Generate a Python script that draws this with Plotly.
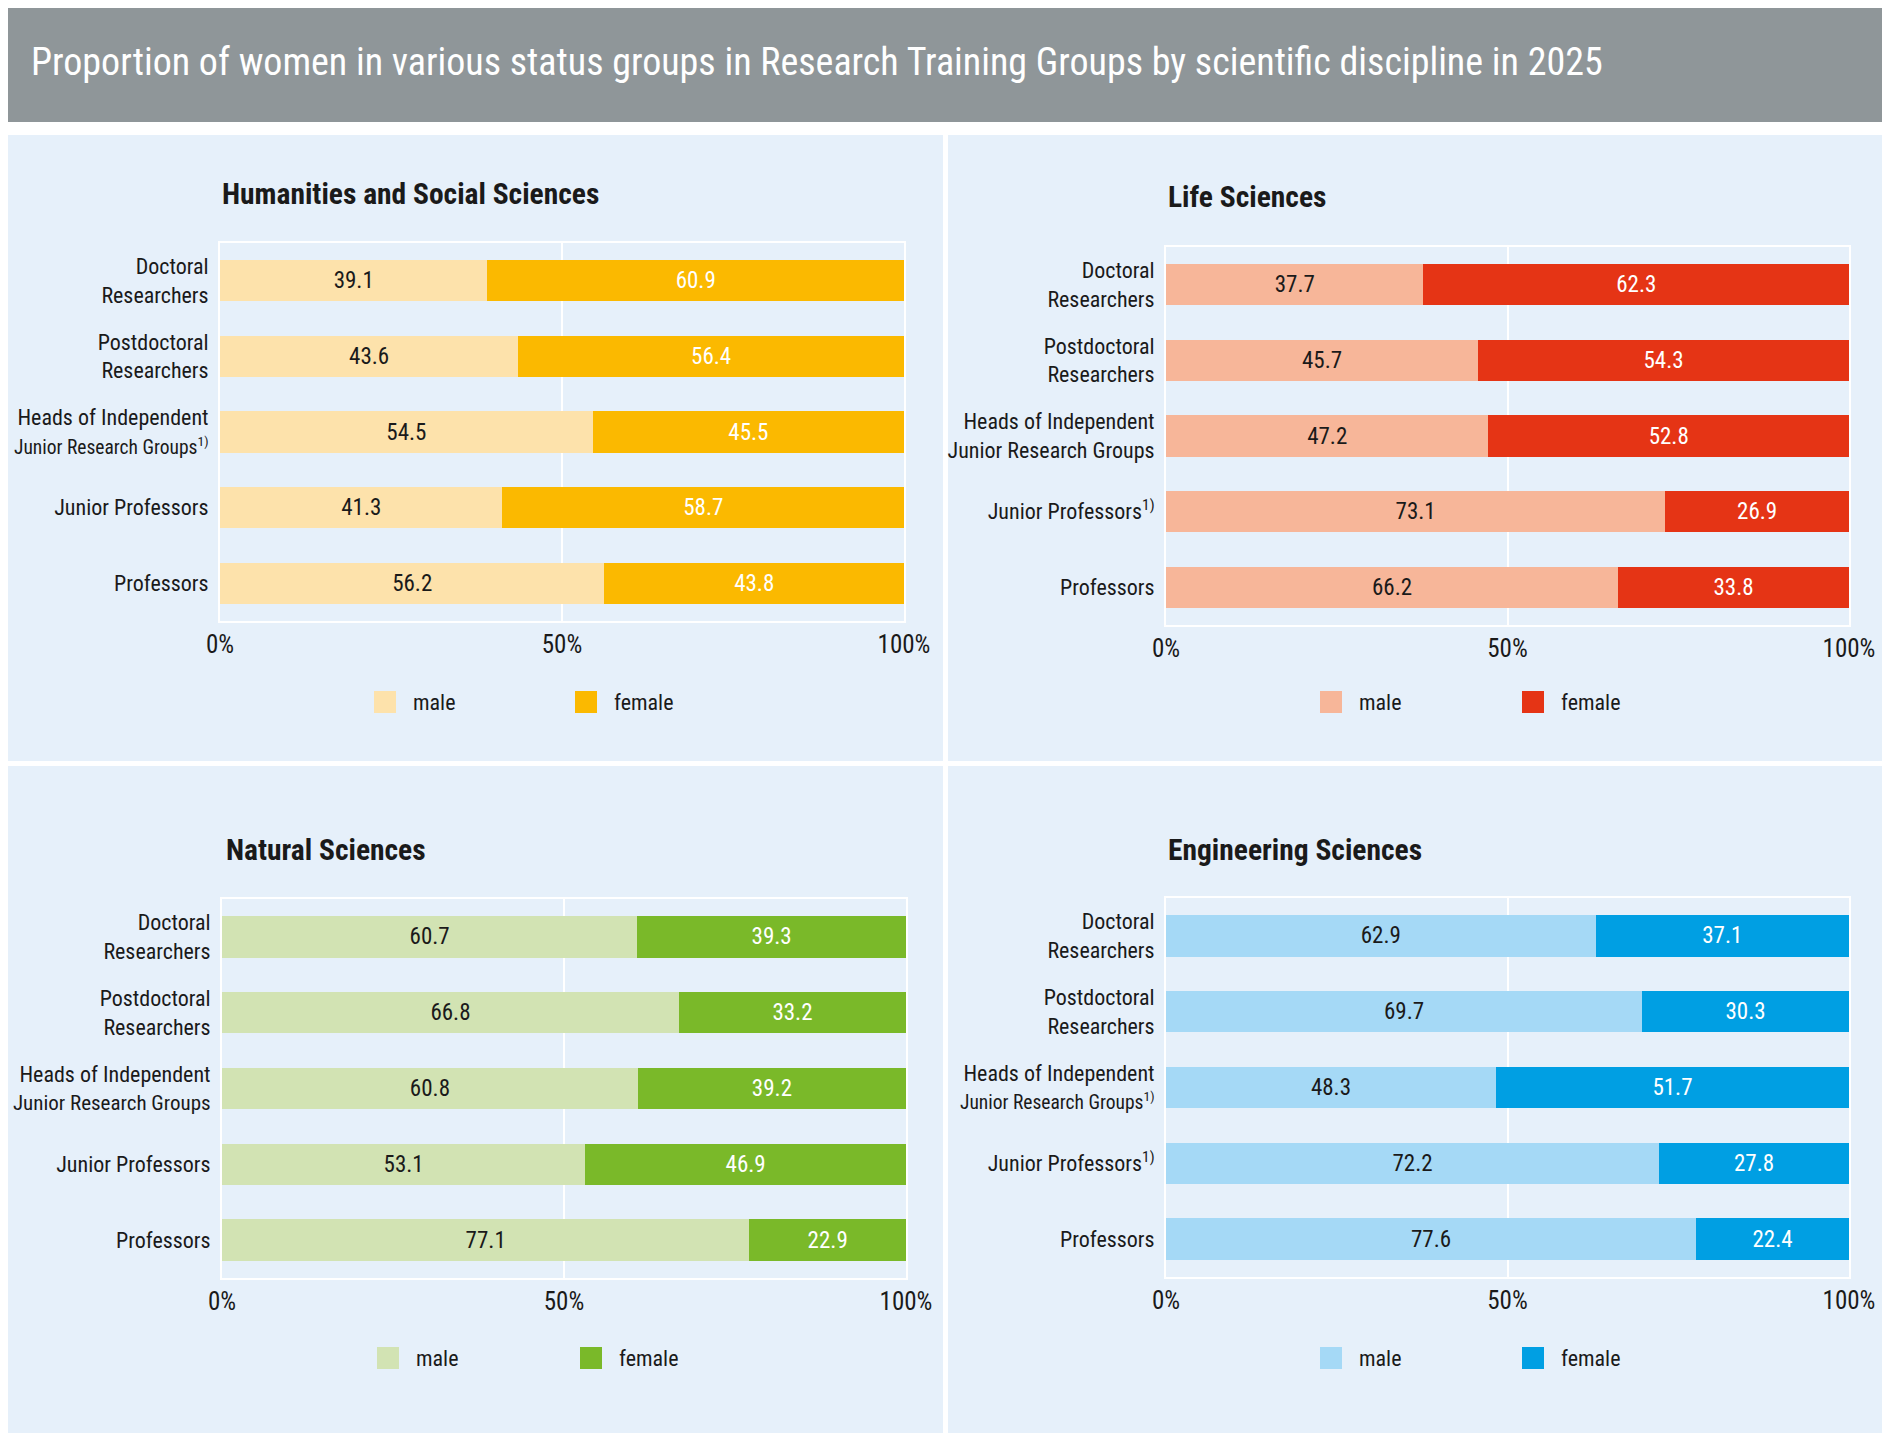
import plotly.graph_objects as go

# the page puts the figure 8px in from the top-left corner
OFF = 8
W, H = 1890 - OFF, 1436 - OFF

title = "Proportion of women in various status groups in Research Training Groups by scientific discipline in 2025"

panel_titles = ["Humanities and Social Sciences", "Life Sciences", "Natural Sciences", "Engineering Sciences"]

jrg_sup = '<span style="font-size:19.5px">Junior Research Groups<sup>1)</sup></span>'
jrg_small = '<span style="font-size:21px">Junior Research Groups</span>'
labels_hss = ["Doctoral<br>Researchers", "Postdoctoral<br>Researchers",
              "Heads of Independent<br>" + jrg_sup, "Junior Professors", "Professors"]
labels_life = ["Doctoral<br>Researchers", "Postdoctoral<br>Researchers",
               "Heads of Independent<br>Junior Research Groups", "Junior Professors<sup>1)</sup>", "Professors"]
labels_nat = ["Doctoral<br>Researchers", "Postdoctoral<br>Researchers",
              "Heads of Independent<br>" + jrg_small, "Junior Professors", "Professors"]
labels_eng = ["Doctoral<br>Researchers", "Postdoctoral<br>Researchers",
              "Heads of Independent<br>" + jrg_sup, "Junior Professors<sup>1)</sup>", "Professors"]

male_hss = [39.1, 43.6, 54.5, 41.3, 56.2]
female_hss = [60.9, 56.4, 45.5, 58.7, 43.8]
male_life = [37.7, 45.7, 47.2, 73.1, 66.2]
female_life = [62.3, 54.3, 52.8, 26.9, 33.8]
male_nat = [60.7, 66.8, 60.8, 53.1, 77.1]
female_nat = [39.3, 33.2, 39.2, 46.9, 22.9]
male_eng = [62.9, 69.7, 48.3, 72.2, 77.6]
female_eng = [37.1, 30.3, 51.7, 27.8, 22.4]

colors_male = ["#fde2ab", "#f7b699", "#d2e3b3", "#a5d9f6"]
colors_female = ["#fbb900", "#e53415", "#7ab929", "#009fe3"]

FONT = "Liberation Sans Narrow, Roboto Condensed, DejaVu Sans Condensed, Arial Narrow, sans-serif"
TXT = "#1a1a1a"


def fx(px):
    return (px - OFF) / W


def fy(py):
    return 1 - (py - OFF) / H


# plot areas in page pixels: (x0, x1, ytop, ybottom)
areas = [(220, 904, 243, 621), (1166, 1849, 247, 625),
         (222, 906, 899, 1278), (1166, 1849, 898, 1277)]
# legend swatch x positions and centre y
legend_pos = [(374, 575, 702), (1320, 1522, 702), (377, 580, 1358), (1320, 1522, 1358)]
title_pos = [(220, 194), (1166, 197), (224, 850), (1166, 850)]

panels = [
    (labels_hss, male_hss, female_hss),
    (labels_life, male_life, female_life),
    (labels_nat, male_nat, female_nat),
    (labels_eng, male_eng, female_eng),
]

fig = go.Figure()
shapes = []
annotations = []

# header band and panel backgrounds
shapes.append(dict(type="rect", xref="paper", yref="paper", x0=fx(OFF), x1=1, y0=fy(122), y1=1,
                   fillcolor="#8f9699", line_width=0, layer="below"))
for (x0, x1, y0, y1) in [(OFF, 943, 135, 761), (948, 1890, 135, 761),
                         (OFF, 943, 766, 1433), (948, 1890, 766, 1433)]:
    shapes.append(dict(type="rect", xref="paper", yref="paper", x0=fx(x0), x1=fx(x1), y0=fy(y1), y1=fy(y0),
                       fillcolor="#e6f0fa", line_width=0, layer="below"))

annotations.append(dict(text=title, x=fx(29), y=fy(62), xref="paper", yref="paper",
                        xanchor="left", yanchor="middle", showarrow=False,
                        font=dict(family=FONT, size=38, color="white")))

for i, (cats, male, female) in enumerate(panels):
    xa = "x" if i == 0 else f"x{i + 1}"
    ya = "y" if i == 0 else f"y{i + 1}"
    fig.add_trace(go.Bar(y=cats, x=male, orientation="h", name="male", xaxis=xa, yaxis=ya,
                         marker=dict(color=colors_male[i], line_width=0), width=0.545,
                         text=[f"{v:.1f}" for v in male], textposition="inside",
                         insidetextanchor="middle", textangle=0,
                         textfont=dict(family=FONT, size=23, color=TXT), showlegend=False))
    fig.add_trace(go.Bar(y=cats, x=female, orientation="h", name="female", xaxis=xa, yaxis=ya,
                         marker=dict(color=colors_female[i], line_width=0), width=0.545,
                         text=[f"{v:.1f}" for v in female], textposition="inside",
                         insidetextanchor="middle", textangle=0,
                         textfont=dict(family=FONT, size=23, color="white"), showlegend=False))

    x0, x1, yt, yb = areas[i]
    sfx = "" if i == 0 else str(i + 1)
    fig.update_layout({
        f"xaxis{sfx}": dict(domain=[fx(x0), fx(x1)], anchor=ya, range=[0, 100],
                            tickvals=[0, 50, 100], ticktext=["0%", "50%", "100%"],
                            showgrid=True, gridcolor="white", gridwidth=2, zeroline=False,
                            showline=True, mirror=True, linecolor="white", linewidth=2,
                            ticks="", ticklabelstandoff=0, layer="below traces", automargin=False,
                            tickfont=dict(family=FONT, size=25, color=TXT), fixedrange=True),
        f"yaxis{sfx}": dict(domain=[fy(yb), fy(yt)], anchor=xa, autorange="reversed",
                            type="category", showgrid=False, zeroline=False,
                            showline=True, mirror=True, linecolor="white", linewidth=2,
                            ticks="", ticklabelstandoff=5, layer="below traces", automargin=False,
                            tickfont=dict(family=FONT, size=22, color=TXT), fixedrange=True),
    })

    tx, ty = title_pos[i]
    annotations.append(dict(text="<b>" + panel_titles[i] + "</b>", x=fx(tx), y=fy(ty),
                            xref="paper", yref="paper", xanchor="left", yanchor="middle",
                            showarrow=False, font=dict(family=FONT, size=29.5, color=TXT)))

    # legend
    lm, lf, ly = legend_pos[i]
    for sx, col, name in [(lm, colors_male[i], "male"), (lf, colors_female[i], "female")]:
        shapes.append(dict(type="rect", xref="paper", yref="paper",
                           x0=fx(sx), x1=fx(sx + 22), y0=fy(ly + 11), y1=fy(ly - 11),
                           fillcolor=col, line_width=0))
        annotations.append(dict(text=name, x=fx(sx + 37), y=fy(ly), xref="paper", yref="paper",
                                xanchor="left", yanchor="middle", showarrow=False,
                                font=dict(family=FONT, size=22, color=TXT)))

fig.update_layout(
    width=W, height=H, margin=dict(l=0, r=0, t=0, b=0, autoexpand=False),
    paper_bgcolor="white", plot_bgcolor="rgba(0,0,0,0)",
    barmode="stack", showlegend=False,
    shapes=shapes, annotations=annotations,
    font=dict(family=FONT, color=TXT),
)

fig.write_html("out.html")
